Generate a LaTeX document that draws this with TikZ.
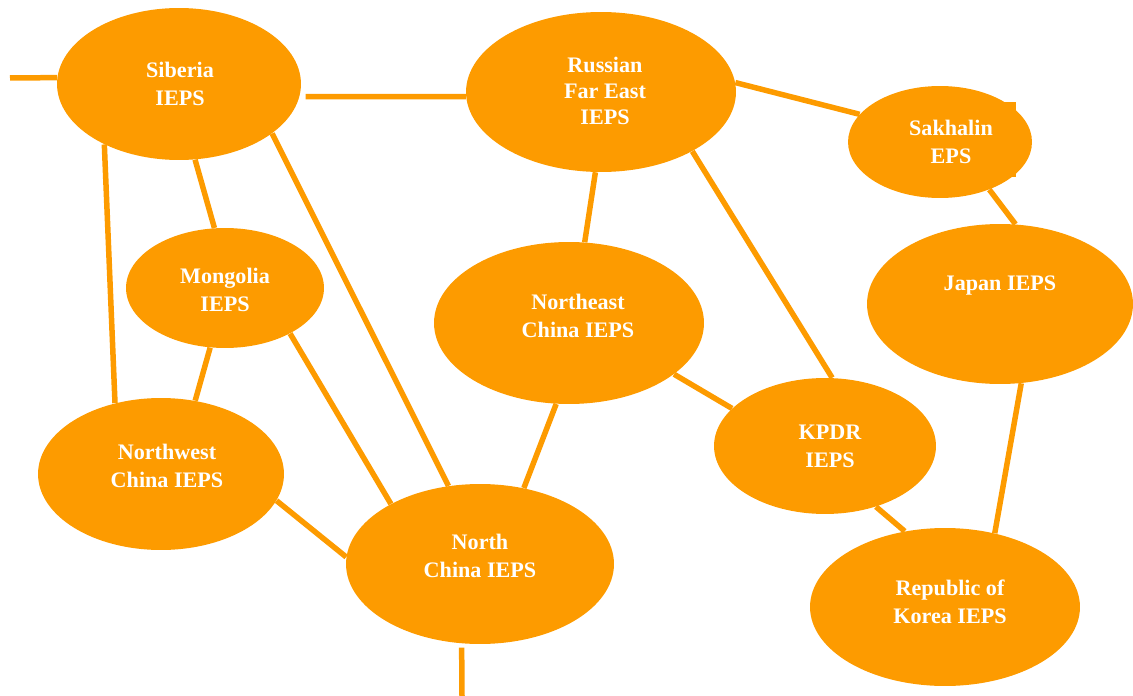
\documentclass[tikz,border=0pt]{standalone}
\usepackage{fontspec}
\setmainfont{Liberation Serif}
\usetikzlibrary{shapes.geometric}
\definecolor{hubfill}{RGB}{253,155,0}
\tikzset{
    hub/.style={ellipse, fill=hubfill, inner sep=0pt},
    hubtext/.style={text=white, align=center, font=\bfseries\fontsize{12.6}{16}\selectfont},
    link/.style={draw=hubfill, line width=0.11cm}
}
\begin{document}
\begin{tikzpicture}[x=0.02cm, y=-0.02cm]
                \useasboundingbox (0,0) rectangle (1133,696);
                \fill[hubfill] (930,102) rectangle (1016,177);
                \node[hub, minimum width=4.88cm, minimum height=3.04cm] (siberia) at (179,84) {};
                \node[hub, minimum width=5.4cm, minimum height=3.2cm] (russia) at (601,92) {};
                \node[hub, minimum width=3.68cm, minimum height=2.24cm] (sakhalin) at (940,142) {};
                \node[hub, minimum width=3.96cm, minimum height=2.4cm] (mongolia) at (225,288) {};
                \node[hub, minimum width=5.4cm, minimum height=3.24cm] (northeast) at (569,323) {};
                \node[hub, minimum width=5.32cm, minimum height=3.2cm] (japan) at (1000,304) {};
                \node[hub, minimum width=4.92cm, minimum height=3.04cm] (northwest) at (161,474) {};
                \node[hub, minimum width=4.44cm, minimum height=2.72cm] (kpdr) at (825,446) {};
                \node[hub, minimum width=5.36cm, minimum height=3.2cm] (northchina) at (480,564) {};
                \node[hub, minimum width=5.4cm, minimum height=3.16cm] (korea) at (945,607) {};
                \node[hubtext] (siberia-t) at (180,84) {Siberia\\IEPS};
                \node[hubtext, font=\bfseries\fontsize{12.6}{14.8}\selectfont] (russia-t) at (605,91) {Russian\\Far East\\IEPS};
                \node[hubtext] (sakhalin-t) at (951,142) {Sakhalin\\EPS};
                \node[hubtext] (mongolia-t) at (225,290) {Mongolia\\IEPS};
                \node[hubtext] (northeast-t) at (578,316) {Northeast\\China IEPS};
                \node[hubtext] (japan-t) at (1000,286) {Japan IEPS};
                \node[hubtext] (northwest-t) at (167,466) {Northwest\\China IEPS};
                \node[hubtext] (kpdr-t) at (830,446) {KPDR\\IEPS};
                \node[hubtext] (northchina-t) at (480,556) {North\\China IEPS};
                \node[hubtext] (korea-t) at (950,602) {Republic of\\Korea IEPS};
                \coordinate (west-end) at (10,78);
                \coordinate (south-end) at (462,696);
                \draw[link] (west-end) -- (siberia.177);
                \draw[link, shorten <=0.12cm] (siberia.-6) -- (russia.182);
                \draw[link] (russia.4) -- (sakhalin.161);
                \draw[link] (sakhalin.-44) -- (japan.79);
                \draw[link] (siberia.-141) -- (northwest.123);
                \draw[link] (siberia.-78) -- (mongolia.100);
                \draw[link] (siberia.-28) -- (northchina.112);
                \draw[link] (mongolia.-104) -- (northwest.65);
                \draw[link] (mongolia.-35) -- (northchina.146);
                \draw[link] (russia.-94) -- (northeast.79);
                \draw[link] (russia.-33) -- (kpdr.84);
                \draw[link] (northeast.-26) -- (kpdr.158);
                \draw[link] (northeast.-99) -- (northchina.60);
                \draw[link] (northwest.-13) -- (northchina.177);
                \draw[link, shorten >=0.08cm] (south-end) -- (northchina.-103);
                \draw[link] (kpdr.-50) -- (korea.118);
                \draw[link] (japan.-75) -- (korea.56);
            \end{tikzpicture}
\end{document}
